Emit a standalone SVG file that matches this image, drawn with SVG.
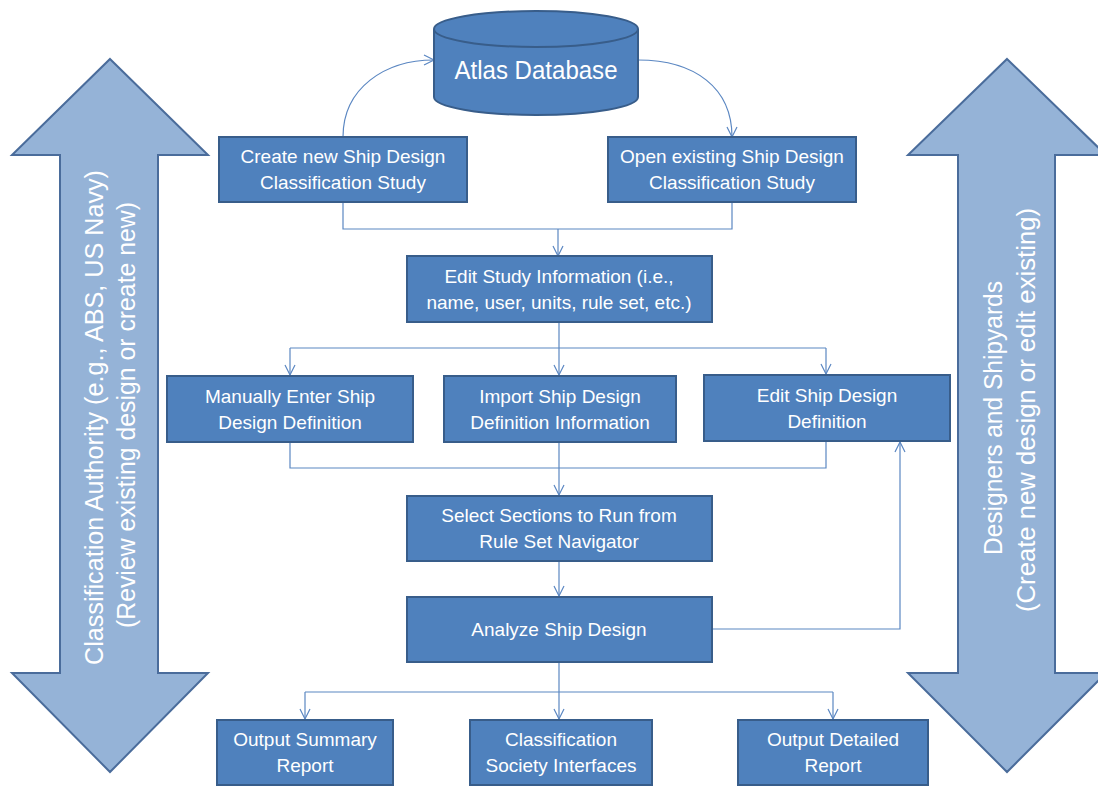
<svg xmlns="http://www.w3.org/2000/svg" width="1098" height="786" viewBox="0 0 1098 786">
<style>
.big{fill:#95B3D7;stroke:#4A6C9B;stroke-width:2}
.box{fill:#4F81BD;stroke:#385D8A;stroke-width:2}
.t{font-family:"Liberation Sans",Arial,sans-serif;font-size:19px;fill:#FFFFFF;text-anchor:middle}
.vt{font-family:"Liberation Sans",Arial,sans-serif;font-size:26px;fill:#FFFFFF;text-anchor:middle}
.c{fill:none;stroke:#5B87C2;stroke-width:1.2}
</style>
<defs>
<marker id="ah" markerUnits="userSpaceOnUse" markerWidth="14" markerHeight="14" viewBox="-12 -7 14 14" refX="0" refY="0" orient="auto">
<path d="M-10,-5 L0,0 L-10,5" fill="none" stroke="#5B87C2" stroke-width="1.2"/>
</marker>
</defs>
<rect x="0" y="0" width="1098" height="786" fill="#FFFFFF"/>
<g id="actor-left">
<polygon class="big" points="110,59 208,155 158,155 158,673 208,673 110,772 12,673 60,673 60,155 12,155"/>
<text class="vt" transform="translate(103,417.5) rotate(-90)" textLength="495" lengthAdjust="spacingAndGlyphs">Classification Authority (e.g., ABS, US Navy)</text>
<text class="vt" transform="translate(135,415) rotate(-90)" textLength="426" lengthAdjust="spacingAndGlyphs">(Review existing design or create new)</text>
</g>
<g id="actor-right">
<polygon class="big" points="1007,59 1106,155 1055,155 1055,673 1106,673 1007,772 908,673 958,673 958,155 908,155"/>
<text class="vt" transform="translate(1002,418) rotate(-90)" textLength="274" lengthAdjust="spacingAndGlyphs">Designers and Shipyards</text>
<text class="vt" transform="translate(1035,410) rotate(-90)" textLength="404" lengthAdjust="spacingAndGlyphs">(Create new design or edit existing)</text>
</g>
<g id="connectors">
<path class="c" d="M343,137 C343,88 385,60 434,60" marker-end="url(#ah)"/>
<path class="c" d="M638,60 C695,60 732,88 732,137" marker-end="url(#ah)"/>
<path class="c" d="M343,202 V229 H732 V202"/>
<path class="c" d="M558,229 V256" marker-end="url(#ah)"/>
<path class="c" d="M559,322 V375" marker-end="url(#ah)"/>
<path class="c" d="M290,348 H826"/>
<path class="c" d="M290,348 V375" marker-end="url(#ah)"/>
<path class="c" d="M826,348 V374" marker-end="url(#ah)"/>
<path class="c" d="M290,442 V468 H826 V441"/>
<path class="c" d="M559,442 V495" marker-end="url(#ah)"/>
<path class="c" d="M559,561 V596" marker-end="url(#ah)"/>
<path class="c" d="M712,629 H900 V442" marker-end="url(#ah)"/>
<path class="c" d="M559,662 V719" marker-end="url(#ah)"/>
<path class="c" d="M305,692 H833"/>
<path class="c" d="M305,692 V719" marker-end="url(#ah)"/>
<path class="c" d="M833,692 V719" marker-end="url(#ah)"/>
</g>
<g id="atlas-db">
<path class="box" d="M434,29 V97 A102,18 0 0 0 638,97 V29"/>
<ellipse class="box" cx="536" cy="29" rx="102" ry="18"/>
<text class="t" x="536" y="79" style="font-size:25px" textLength="163" lengthAdjust="spacingAndGlyphs">Atlas Database</text>
</g>
<g id="create-new">
<rect class="box" x="219" y="137" width="248" height="65"/>
<text class="t" x="343" y="163">Create new Ship Design</text>
<text class="t" x="343" y="189">Classification Study</text>
</g>
<g id="open-existing">
<rect class="box" x="608" y="137" width="248" height="65"/>
<text class="t" x="732" y="163">Open existing Ship Design</text>
<text class="t" x="732" y="189">Classification Study</text>
</g>
<g id="edit-study">
<rect class="box" x="407" y="256" width="305" height="66"/>
<text class="t" x="559" y="283">Edit Study Information (i.e.,</text>
<text class="t" x="559" y="309">name, user, units, rule set, etc.)</text>
</g>
<g id="manual-enter">
<rect class="box" x="167" y="376" width="246" height="66"/>
<text class="t" x="290" y="403">Manually Enter Ship</text>
<text class="t" x="290" y="429">Design Definition</text>
</g>
<g id="import-def">
<rect class="box" x="444" y="376" width="232" height="66"/>
<text class="t" x="560" y="403">Import Ship Design</text>
<text class="t" x="560" y="429">Definition Information</text>
</g>
<g id="edit-def">
<rect class="box" x="704" y="375" width="246" height="66"/>
<text class="t" x="827" y="402">Edit Ship Design</text>
<text class="t" x="827" y="428">Definition</text>
</g>
<g id="select-sections">
<rect class="box" x="407" y="496" width="305" height="65"/>
<text class="t" x="559" y="522">Select Sections to Run from</text>
<text class="t" x="559" y="548">Rule Set Navigator</text>
</g>
<g id="analyze">
<rect class="box" x="407" y="597" width="305" height="65"/>
<text class="t" x="559" y="636">Analyze Ship Design</text>
</g>
<g id="output-summary">
<rect class="box" x="217" y="720" width="176" height="65"/>
<text class="t" x="305" y="746">Output Summary</text>
<text class="t" x="305" y="772">Report</text>
</g>
<g id="class-society">
<rect class="box" x="470" y="720" width="182" height="65"/>
<text class="t" x="561" y="746">Classification</text>
<text class="t" x="561" y="772">Society Interfaces</text>
</g>
<g id="output-detailed">
<rect class="box" x="738" y="720" width="190" height="65"/>
<text class="t" x="833" y="746">Output Detailed</text>
<text class="t" x="833" y="772">Report</text>
</g>
</svg>
